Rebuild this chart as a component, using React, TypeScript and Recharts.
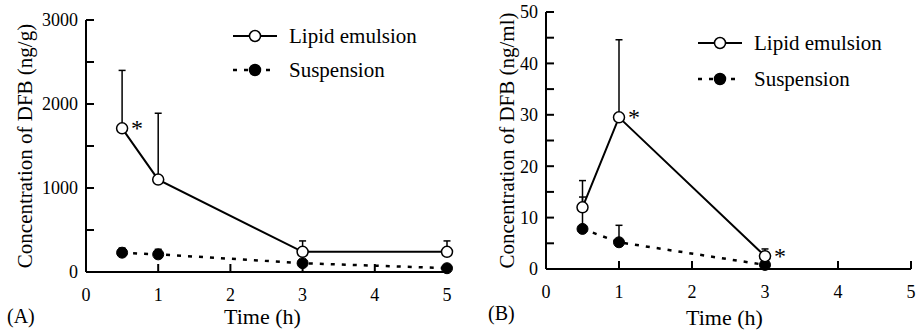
import { ComposedChart, Line, XAxis, YAxis, ErrorBar, LabelList, Legend } from 'recharts'

const FONT = '"Liberation Serif", "Times New Roman", serif'

// Panel A: tissue (ng/g)
const timeA = [0.5, 1, 3, 5]
const lipidA = [1710, 1100, 240, 240]
const lipidUpperA = [2400, 1890, 370, 370]
const suspA = [230, 210, 105, 45]
const suspUpperA = [285, 270, 105, 45]
const starsA = ['*', '', '', '']

// Panel B: plasma (ng/ml)
const timeB = [0.5, 1, 3]
const lipidB = [12, 29.5, 2.5]
const lipidUpperB = [17.2, 44.6, 3.9]
const suspB = [7.8, 5.2, 0.8]
const suspUpperB = [14, 8.5, 0.8]
const starsB = ['', '*', '*']

const xTicks = [0, 1, 2, 3, 4, 5]
const yTicksA = [0, 500, 1000, 1500, 2000, 2500, 3000]
const yLabelsA = [0, 1000, 2000, 3000]
const yTicksB = [0, 5, 10, 15, 20, 25, 30, 35, 40, 45, 50]
const yLabelsB = [0, 10, 20, 30, 40, 50]

const legendNames = ['Lipid emulsion', 'Suspension']

function buildRows(t: number[], lipid: number[], lipidUp: number[], susp: number[], suspUp: number[], stars: string[]) {
  return t.map((time, i) => ({
    t: time,
    lipid: lipid[i],
    lipidErr: [0, lipidUp[i] - lipid[i]],
    susp: susp[i],
    suspErr: [0, suspUp[i] - susp[i]],
    star: stars[i],
  }))
}

const dataA = buildRows(timeA, lipidA, lipidUpperA, suspA, suspUpperA, starsA)
const dataB = buildRows(timeB, lipidB, lipidUpperB, suspB, suspUpperB, starsB)

function XTick(props: any) {
  const { x, y, payload } = props
  return (
    <g>
      {payload.value !== 0 && <line x1={x} x2={x} y1={y} y2={y - 8} stroke="#000" strokeWidth={2} />}
      <text x={x} y={y + 29} textAnchor="middle" fontSize={18} fontFamily={FONT} fill="#000">
        {payload.value}
      </text>
    </g>
  )
}

const makeYTick = (labels: number[]) => (props: any) => {
  const { x, y, payload } = props
  return (
    <g>
      {payload.value !== 0 && <line x1={x} x2={x + 8} y1={y} y2={y} stroke="#000" strokeWidth={2} />}
      {labels.includes(payload.value) && (
        <text x={x - 8} y={y} dy="0.35em" textAnchor="end" fontSize={18} fontFamily={FONT} fill="#000">
          {payload.value}
        </text>
      )}
    </g>
  )
}

function StarLabel(props: any) {
  const vx = props.x ?? props.viewBox?.x
  const vy = props.y ?? props.viewBox?.y
  if (!props.value) return null
  return (
    <text x={vx + 15} y={vy + 8} textAnchor="middle" fontSize={24} fontFamily={FONT} fill="#000">
      {props.value}
    </text>
  )
}

function LegendBox({ rowH }: { rowH: number }) {
  return (
    <div style={{ fontFamily: FONT }}>
      {legendNames.map((name, i) => (
        <div key={name} style={{ display: 'flex', alignItems: 'center', height: rowH }}>
          <svg width={56} height={rowH}>
            <line
              x1={6}
              x2={50}
              y1={rowH / 2}
              y2={rowH / 2}
              stroke="#000"
              strokeWidth={i === 1 ? 2.5 : 2}
              strokeDasharray={i === 1 ? '4 7' : undefined}
            />
            <circle cx={28} cy={rowH / 2} r={5.5} fill={i === 1 ? '#000' : '#fff'} stroke="#000" strokeWidth={1.5} />
          </svg>
          <span style={{ marginLeft: 6, fontSize: 21, color: '#000', lineHeight: 1 }}>{name}</span>
        </div>
      ))}
    </div>
  )
}

interface PanelProps {
  data: any[]
  width: number
  top: number
  right: number
  xAxisH: number
  yMax: number
  yTicks: number[]
  yLabels: number[]
  yTitle: string
  yTitleX: number
  xTitleDy: number
  tag: string
  tagX: number
  legendTop: number
  legendLeft: number
  legendRowH: number
}

function Panel(p: PanelProps) {
  return (
    <ComposedChart
      width={p.width}
      height={330}
      data={p.data}
      margin={{ top: p.top, right: p.right, bottom: 0, left: 0 }}
    >
      <XAxis
        dataKey="t"
        type="number"
        domain={[0, 5]}
        ticks={xTicks}
        interval={0}
        height={p.xAxisH}
        tickSize={0}
        tickMargin={0}
        tick={<XTick />}
        axisLine={{ stroke: '#000', strokeWidth: 2 }}
        label={{
          value: 'Time (h)',
          content: (lp: any) => {
            const vb = lp.viewBox
            return (
              <g fontFamily={FONT} fill="#000">
                <text x={vb.x + vb.width / 2 - 4} y={vb.y + p.xTitleDy} textAnchor="middle" fontSize={22}>
                  Time (h)
                </text>
                <text x={p.tagX} y={vb.y + 51} fontSize={20}>
                  {p.tag}
                </text>
              </g>
            )
          },
        }}
      />
      <YAxis
        type="number"
        domain={[0, p.yMax]}
        ticks={p.yTicks}
        interval={0}
        width={86}
        tickSize={0}
        tickMargin={0}
        tick={makeYTick(p.yLabels)}
        axisLine={{ stroke: '#000', strokeWidth: 2 }}
        label={{
          value: p.yTitle,
          content: (lp: any) => {
            const vb = lp.viewBox
            const cy = vb.y + vb.height / 2
            return (
              <text
                transform={`translate(${vb.x + p.yTitleX}, ${cy}) rotate(-90)`}
                textAnchor="middle"
                dominantBaseline="central"
                fontSize={21}
                fontFamily={FONT}
                fill="#000"
              >
                {p.yTitle}
              </text>
            )
          },
        }}
      />
      <Legend
        layout="horizontal"
        verticalAlign="middle"
        align="center"
        wrapperStyle={{ top: p.legendTop, left: p.legendLeft, width: 230 }}
        content={() => <LegendBox rowH={p.legendRowH} />}
      />
      <Line
        dataKey="susp"
        stroke="#000"
        strokeWidth={2.5}
        strokeDasharray="4 7"
        dot={{ r: 5.5, fill: '#000', stroke: '#000', strokeWidth: 1, strokeDasharray: '' }}
        activeDot={false}
        isAnimationActive={false}
      >
        <ErrorBar dataKey="suspErr" direction="y" width={3.5} stroke="#000" strokeWidth={1.5} />
      </Line>
      <Line
        dataKey="lipid"
        stroke="#000"
        strokeWidth={2}
        dot={{ r: 5.5, fill: '#fff', stroke: '#000', strokeWidth: 1.5 }}
        activeDot={false}
        isAnimationActive={false}
      >
        <ErrorBar dataKey="lipidErr" direction="y" width={3.5} stroke="#000" strokeWidth={1.5} />
        <LabelList dataKey="star" content={StarLabel} />
      </Line>
    </ComposedChart>
  )
}

export default function App() {
  return (
    <div style={{ position: 'absolute', left: 0, top: 0, width: 918, height: 330, background: '#fff', display: 'flex' }}>
      <Panel
        data={dataA}
        width={460}
        top={20}
        right={13}
        xAxisH={58}
        yMax={3000}
        yTicks={yTicksA}
        yLabels={yLabelsA}
        yTitle="Concentration of DFB (ng/g)"
        yTitleX={25}
        xTitleDy={52}
        tag="(A)"
        tagX={7}
        legendTop={19}
        legendLeft={227}
        legendRowH={34}
      />
      <Panel
        data={dataB}
        width={458}
        top={12}
        right={7}
        xAxisH={61}
        yMax={50}
        yTicks={yTicksB}
        yLabels={yLabelsB}
        yTitle="Concentration of DFB (ng/ml)"
        yTitleX={47}
        xTitleDy={56}
        tag="(B)"
        tagX={28}
        legendTop={25}
        legendLeft={232}
        legendRowH={36}
      />
    </div>
  )
}
